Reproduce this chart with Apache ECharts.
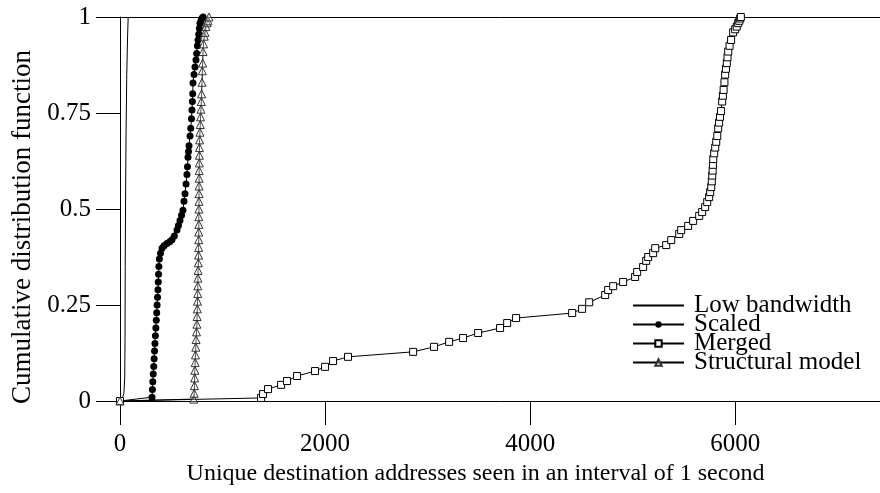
<!DOCTYPE html>
<html>
<head>
<meta charset="utf-8">
<script src="https://cdn.jsdelivr.net/npm/echarts@6/dist/echarts.min.js"></script>
<style>
  html, body { margin: 0; padding: 0; background: #fff; }
  #chart { width: 880px; height: 493px; }
</style>
</head>
<body>
<div id="chart"></div>
<script>
// data: [unique addresses, CDF]
const lowBandwidth = [
  [0, 0], [20, 0.005], [38, 0.02], [46, 0.06], [49, 0.15], [51, 0.35],
  [55, 0.55], [59, 0.7], [66, 0.85], [74, 0.95], [80, 1]
];
const scaled = [
  [0, 0], [312, 0.01], [316, 0.03], [320, 0.05], [324, 0.07], [329, 0.09], [333, 0.11],
  [337, 0.13], [341, 0.15], [345, 0.17], [350, 0.19], [354, 0.21], [358, 0.23], [362, 0.25],
  [366, 0.27], [370, 0.29], [373, 0.31], [376, 0.33], [379, 0.35], [384, 0.37], [395, 0.385],
  [410, 0.398], [430, 0.404], [458, 0.41], [485, 0.415], [507, 0.42], [530, 0.43], [556, 0.445],
  [570, 0.457], [585, 0.47], [600, 0.484], [614, 0.497], [624, 0.52], [634, 0.54], [644, 0.565],
  [653, 0.59], [658, 0.61], [663, 0.635], [668, 0.65], [673, 0.665], [683, 0.69], [690, 0.71],
  [697, 0.735], [702, 0.758], [706, 0.78], [709, 0.8], [712, 0.828], [722, 0.85], [731, 0.87],
  [741, 0.888], [748, 0.905], [755, 0.925], [761, 0.94], [768, 0.955], [774, 0.97], [780, 0.984],
  [790, 0.99], [800, 0.997], [810, 1]
];
const merged = [
  [0, 0], [1376, 0.008], [1395, 0.018], [1444, 0.031], [1571, 0.042], [1629, 0.052], [1727, 0.065],
  [1902, 0.078], [2000, 0.089], [2078, 0.104], [2224, 0.115], [2859, 0.128], [3063, 0.141],
  [3210, 0.154], [3346, 0.164], [3493, 0.177], [3707, 0.19], [3776, 0.203], [3863, 0.216],
  [4410, 0.229], [4507, 0.24], [4576, 0.257], [4732, 0.276], [4761, 0.289], [4810, 0.299],
  [4907, 0.31], [5024, 0.323], [5044, 0.336], [5102, 0.349], [5132, 0.365], [5151, 0.375],
  [5200, 0.385], [5220, 0.398], [5327, 0.406], [5376, 0.419], [5454, 0.435], [5473, 0.445],
  [5541, 0.456], [5590, 0.469], [5649, 0.482], [5678, 0.492], [5707, 0.505], [5727, 0.518],
  [5746, 0.531], [5756, 0.544], [5766, 0.557], [5772, 0.572], [5776, 0.587], [5780, 0.6],
  [5783, 0.615], [5786, 0.63], [5795, 0.645], [5805, 0.66], [5815, 0.675], [5825, 0.69],
  [5834, 0.71], [5843, 0.725], [5852, 0.74], [5862, 0.755], [5873, 0.78], [5880, 0.795],
  [5887, 0.81], [5895, 0.83], [5902, 0.85], [5910, 0.865], [5918, 0.88], [5925, 0.895],
  [5932, 0.91], [5945, 0.925], [5960, 0.94], [5980, 0.96], [6000, 0.968], [6015, 0.975],
  [6029, 0.984], [6040, 0.99], [6049, 0.996], [6055, 1]
];
const structural = [
  [0, 0], [720, 0.005], [724, 0.02], [726, 0.04], [728, 0.06], [730, 0.08], [733, 0.1],
  [736, 0.12], [739, 0.14], [742, 0.16], [746, 0.18], [750, 0.2], [752, 0.22], [754, 0.24],
  [756, 0.26], [758, 0.28], [759, 0.3], [760, 0.32], [762, 0.34], [764, 0.36], [766, 0.38],
  [767, 0.4], [768, 0.42], [768, 0.44], [769, 0.46], [769, 0.48], [770, 0.5], [770, 0.52],
  [771, 0.54], [771, 0.56], [772, 0.58], [772, 0.6], [773, 0.62], [774, 0.64], [775, 0.66],
  [777, 0.68], [780, 0.7], [783, 0.72], [786, 0.74], [790, 0.76], [793, 0.78], [796, 0.8],
  [800, 0.83], [803, 0.86], [806, 0.88], [810, 0.91], [815, 0.93], [822, 0.95], [829, 0.96],
  [838, 0.975], [849, 0.985], [858, 0.99], [868, 1]
];
const seriesNames = ['Low bandwidth', 'Scaled', 'Merged', 'Structural model'];
const xTicks = { min: 0, max: 7500, interval: 2000 };
const yTicks = { min: 0, max: 1, interval: 0.25 };

const font = 'Liberation Serif';
const chart = echarts.init(document.getElementById('chart'));

const axisLine = { show: true, lineStyle: { color: '#000', width: 1 } };

const option = {
  animation: false,
  backgroundColor: '#fff',
  grid: { left: 120, top: 17, width: 769, height: 384, containLabel: false, outerBoundsMode: 'none' },
  legend: {
    orient: 'vertical',
    left: 632,
    top: 293,
    padding: 0,
    itemGap: -6,
    itemWidth: 51,
    itemHeight: 8,
    textStyle: { fontFamily: font, fontSize: 25, color: '#000', padding: [0, 0, 0, 5] },
    data: seriesNames
  },
  xAxis: [
    {
      type: 'value',
      min: xTicks.min,
      max: xTicks.max,
      interval: xTicks.interval,
      name: 'Unique destination addresses seen in an interval of 1 second',
      nameLocation: 'middle',
      nameGap: 60,
      nameTextStyle: { fontFamily: font, fontSize: 24, color: '#000', padding: [0, 58, 0, 0] },
      axisLine: axisLine,
      axisTick: { show: true, length: 24, lineStyle: { color: '#000' } },
      axisLabel: {
        fontFamily: font, fontSize: 25, color: '#000', margin: 31,
        showMaxLabel: false,
        formatter: v => String(v)
      },
      splitLine: { show: false }
    },
    {
      type: 'value',
      position: 'top',
      min: xTicks.min,
      max: xTicks.max,
      axisLine: axisLine,
      axisTick: { show: false },
      axisLabel: { show: false },
      splitLine: { show: false }
    }
  ],
  yAxis: {
    type: 'value',
    min: yTicks.min,
    max: yTicks.max,
    interval: yTicks.interval,
    name: 'Cumulative distribution function',
    nameLocation: 'middle',
    nameGap: 84,
    nameTextStyle: { fontFamily: font, fontSize: 27, color: '#000', padding: [0, 36, 0, 0] },
    axisLine: axisLine,
    axisTick: { show: true, length: 24, lineStyle: { color: '#000' } },
    axisLabel: { fontFamily: font, fontSize: 25, color: '#000', margin: 29, formatter: v => String(v) },
    splitLine: { show: false }
  },
  series: [
    {
      name: seriesNames[0],
      type: 'line',
      data: lowBandwidth,
      showSymbol: false,
      symbol: 'circle',
      lineStyle: { color: '#000', width: 1 },
      itemStyle: { color: 'rgba(0,0,0,0)', borderWidth: 0 }
    },
    {
      name: seriesNames[1],
      type: 'line',
      data: scaled,
      symbol: 'circle',
      symbolSize: 7,
      lineStyle: { color: '#000', width: 1 },
      itemStyle: { color: '#000' }
    },
    {
      name: seriesNames[2],
      type: 'line',
      data: merged,
      symbol: 'rect',
      symbolSize: 7,
      lineStyle: { color: '#000', width: 1 },
      itemStyle: { color: '#fff', borderColor: '#000', borderWidth: 1 }
    },
    {
      name: seriesNames[3],
      type: 'line',
      data: structural,
      symbol: 'triangle',
      symbolSize: 8,
      lineStyle: { color: '#000', width: 1 },
      itemStyle: { color: 'rgba(255,255,255,0.3)', borderColor: '#333', borderWidth: 1 }
    }
  ]
};
chart.setOption(option);
</script>
</body>
</html>
